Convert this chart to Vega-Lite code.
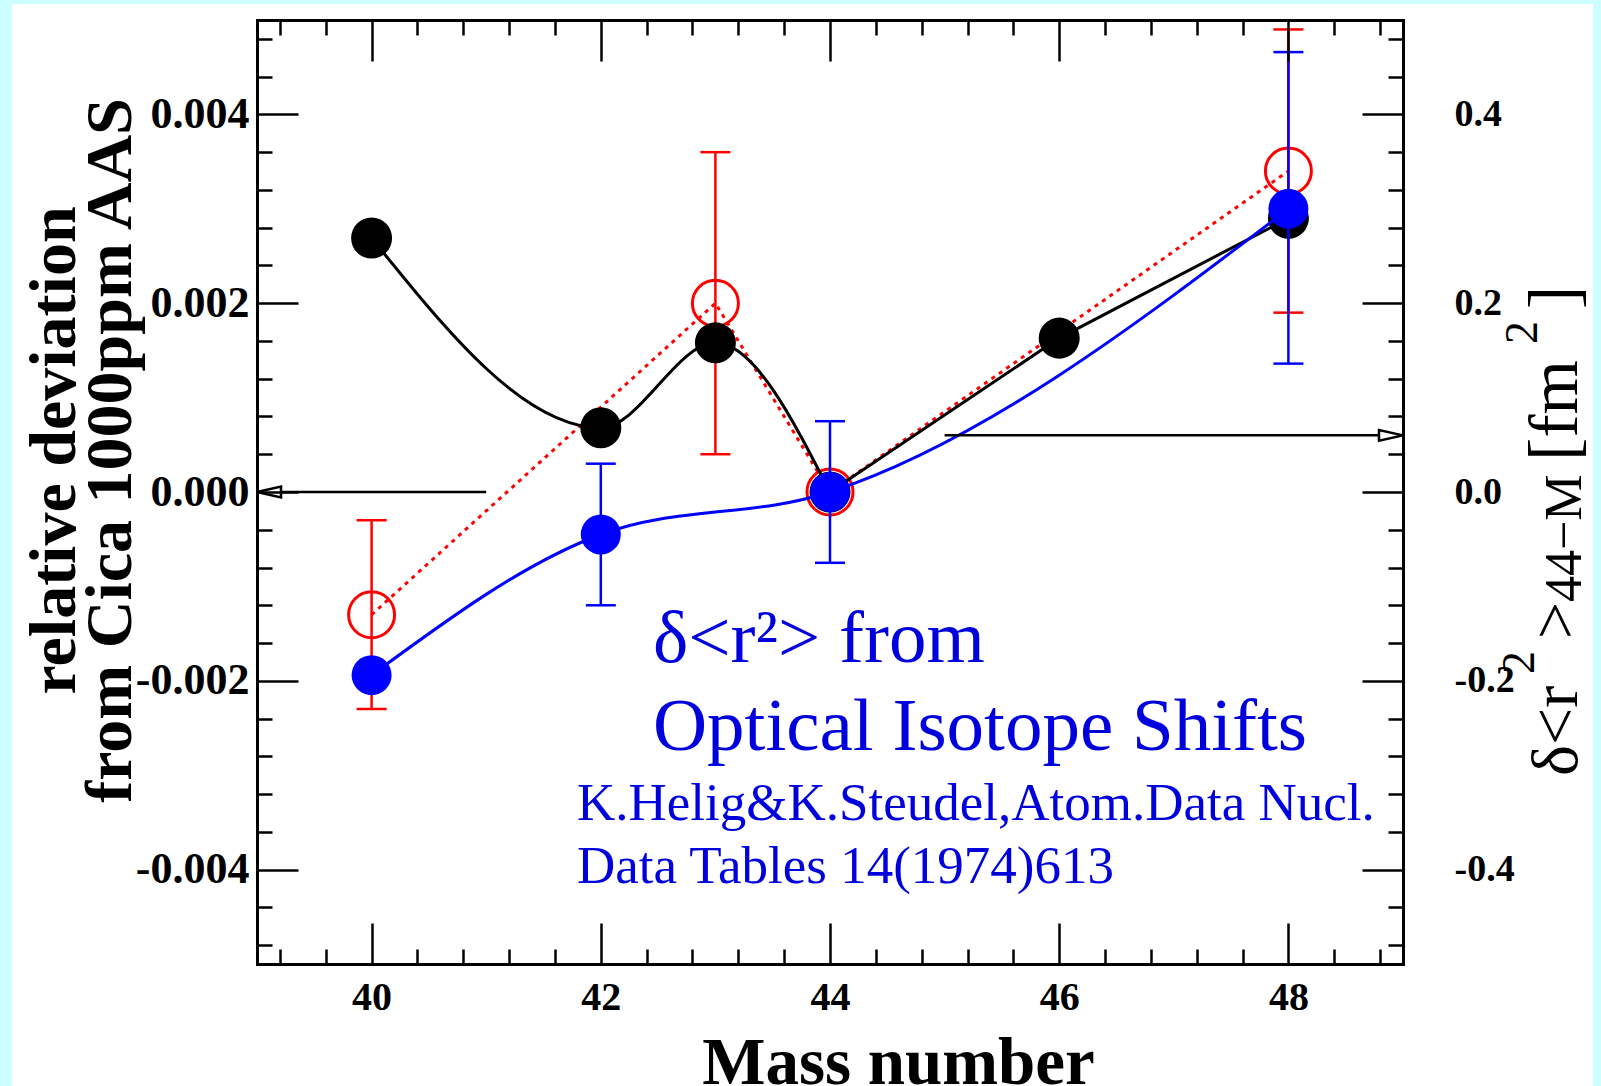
{
  "$schema": "https://vega.github.io/schema/vega-lite/v6.json",
  "width": 1146,
  "height": 944,
  "autosize": {"type": "none"},
  "padding": {"left": 257, "top": 20, "right": 198, "bottom": 122},
  "background": "#ccffff",
  "config": {
    "view": {"stroke": null},
    "font": "Liberation Serif",
    "axis": {
      "grid": false,
      "domain": false,
      "labels": false,
      "ticks": true,
      "tickColor": "black",
      "tickWidth": 2.5,
      "labelFont": "Liberation Serif",
      "labelFontWeight": "bold",
      "labelFontSize": 40,
      "labelColor": "black",
      "labelFlush": false,
      "labelOverlap": false,
      "titleFont": "Liberation Serif",
      "titleColor": "black",
      "titleFontWeight": "bold"
    }
  },
  "datasets": {
    "black": [
      {"A": 40, "v": 0.00269},
      {"A": 42, "v": 0.00068},
      {"A": 43, "v": 0.00158},
      {"A": 44, "v": 0},
      {"A": 46, "v": 0.00163},
      {"A": 48, "v": 0.0029}
    ],
    "red": [
      {"A": 40, "v": -0.0013, "lo": -0.0023, "hi": -0.0003},
      {"A": 43, "v": 0.002, "lo": 0.0004, "hi": 0.0036},
      {"A": 44, "v": 0},
      {"A": 48, "v": 0.0034, "lo": 0.0019, "hi": 0.0049}
    ],
    "blue": [
      {"A": 40, "v": -0.00194},
      {"A": 42, "v": -0.00045, "lo": -0.0012, "hi": 0.0003},
      {"A": 44, "v": 0, "lo": -0.00075, "hi": 0.00075},
      {"A": 48, "v": 0.003, "lo": 0.00136, "hi": 0.00466}
    ],
    "arrows": [
      {"from": 41, "to": 39, "y": 0, "dir": "left"},
      {"from": 45, "to": 49, "y": 0.0006, "dir": "right"}
    ]
  },
  "layer": [
    {
      "data": {"values": [{}]},
      "mark": {"type": "rect", "color": "white"},
      "encoding": {
        "x": {
          "datum": 36.862, "type": "quantitative",
          "scale": {"domain": [39, 49], "nice": false, "zero": false},
          "axis": {
            "zindex": 1,
            "orient": "bottom",
            "values": [40, 42, 44, 46, 48],
            "domain": true, "domainWidth": 3, "domainColor": "black", "domainCap": "square",
            "tickSize": -41,
            "labels": true, "labelPadding": 54, "format": "d", "labelFontSize": 40,
            "title": "Mass number", "titleFontSize": 67,
            "titleX": 641, "titleY": 119, "titleAlign": "center", "titleBaseline": "alphabetic", "titleAngle": 0
          }
        },
        "x2": {"datum": 50.658},
        "y": {
          "datum": 0.0051695, "type": "quantitative",
          "scale": {"domain": [-0.005, 0.005], "nice": false, "zero": false},
          "axis": {
            "zindex": 1,
            "orient": "left",
            "values": [-0.004, -0.002, 0, 0.002, 0.004],
            "domain": true, "domainWidth": 3, "domainColor": "black", "domainCap": "square",
            "tickSize": -41,
            "labels": true, "labelPadding": 49, "labelFontSize": 44,
            "labelExpr": "datum.value < -1e-9 ? '-' + format(-datum.value, '.3f') : format(abs(datum.value), '.3f')",
            "title": ["relative deviation", "from Cica 1000ppm AAS"],
            "titleFontSize": 66, "titleLineHeight": 56,
            "titleAngle": 270, "titleX": -183, "titleY": 430,
            "titleAlign": "center", "titleBaseline": "alphabetic"
          }
        },
        "y2": {"datum": -0.0065}
      }
    },
    {
      "data": {"name": "red"},
      "mark": {"type": "line", "color": "#ff0000", "strokeWidth": 3, "strokeDash": [4, 5]},
      "encoding": {
        "x": {
          "field": "A", "type": "quantitative",
          "axis": {
            "zindex": 1,
            "orient": "top", "values": [40, 42, 44, 46, 48],
            "domain": true, "domainWidth": 3, "domainColor": "black", "domainCap": "square",
            "tickSize": -41, "labels": false, "title": null
          }
        },
        "y": {
          "field": "v", "type": "quantitative",
          "axis": {
            "zindex": 1,
            "orient": "right", "values": [-0.004, -0.002, 0, 0.002, 0.004],
            "domain": true, "domainWidth": 3, "domainColor": "black", "domainCap": "square",
            "tickSize": -41, "labels": true, "labelPadding": 92, "labelAlign": "left", "labelFontSize": 38,
            "labelExpr": "datum.value < -1e-9 ? '-' + format(-datum.value * 100, '.1f') : format(abs(datum.value) * 100, '.1f')",
            "title": null
          }
        }
      }
    },
    {
      "data": {"name": "red"},
      "mark": {"type": "rule", "color": "#ff0000", "strokeWidth": 2.5},
      "encoding": {
        "x": {
          "field": "A", "type": "quantitative",
          "axis": {
            "zindex": 1,
            "orient": "bottom",
            "values": [39.2, 39.6, 40.4, 40.8, 41.2, 41.6, 42.4, 42.8, 43.2, 43.6, 44.4, 44.8, 45.2, 45.6, 46.4, 46.8, 47.2, 47.6, 48.4, 48.8],
            "tickSize": -15, "labels": false, "title": null
          }
        },
        "y": {
          "field": "lo", "type": "quantitative",
          "axis": {
            "zindex": 1,
            "orient": "left",
            "values": [-0.0048, -0.0044, -0.0036, -0.0032, -0.0028, -0.0024, -0.0016, -0.0012, -0.0008, -0.0004, 0.0004, 0.0008, 0.0012, 0.0016, 0.0024, 0.0028, 0.0032, 0.0036, 0.0044, 0.0048],
            "tickSize": -15, "labels": false, "title": null
          }
        },
        "y2": {"field": "hi"}
      }
    },
    {
      "data": {"name": "red"},
      "mark": {"type": "tick", "orient": "horizontal", "color": "#ff0000", "size": 30, "thickness": 2.5, "opacity": 1},
      "encoding": {
        "x": {
          "field": "A", "type": "quantitative",
          "axis": {
            "zindex": 1,
            "orient": "top",
            "values": [39.2, 39.6, 40.4, 40.8, 41.2, 41.6, 42.4, 42.8, 43.2, 43.6, 44.4, 44.8, 45.2, 45.6, 46.4, 46.8, 47.2, 47.6, 48.4, 48.8],
            "tickSize": -15, "labels": false, "title": null
          }
        },
        "y": {
          "field": "lo", "type": "quantitative",
          "axis": {
            "zindex": 1,
            "orient": "right",
            "values": [-0.0048, -0.0044, -0.0036, -0.0032, -0.0028, -0.0024, -0.0016, -0.0012, -0.0008, -0.0004, 0.0004, 0.0008, 0.0012, 0.0016, 0.0024, 0.0028, 0.0032, 0.0036, 0.0044, 0.0048],
            "tickSize": -15, "labels": false, "title": null
          }
        }
      }
    },
    {
      "data": {"name": "red"},
      "mark": {"type": "tick", "orient": "horizontal", "color": "#ff0000", "size": 30, "thickness": 2.5, "opacity": 1},
      "encoding": {
        "x": {"field": "A", "type": "quantitative", "axis": null},
        "y": {"field": "hi", "type": "quantitative", "axis": null}
      }
    },
    {
      "data": {"name": "red"},
      "mark": {"type": "point", "shape": "circle", "filled": false, "stroke": "#ff0000", "strokeWidth": 3, "size": 2116, "opacity": 1},
      "encoding": {
        "x": {"field": "A", "type": "quantitative", "axis": null},
        "y": {"field": "v", "type": "quantitative", "axis": null}
      }
    },
    {
      "data": {"name": "black"},
      "transform": [{"filter": "datum.A <= 44"}],
      "mark": {"type": "line", "color": "black", "strokeWidth": 3, "interpolate": "monotone"},
      "encoding": {
        "x": {"field": "A", "type": "quantitative", "axis": null},
        "y": {"field": "v", "type": "quantitative", "axis": null}
      }
    },
    {
      "data": {"name": "black"},
      "transform": [{"filter": "datum.A >= 44"}],
      "mark": {"type": "line", "color": "black", "strokeWidth": 3},
      "encoding": {
        "x": {"field": "A", "type": "quantitative", "axis": null},
        "y": {"field": "v", "type": "quantitative", "axis": null}
      }
    },
    {
      "data": {"name": "black"},
      "mark": {"type": "point", "shape": "circle", "filled": true, "color": "black", "size": 1681, "opacity": 1},
      "encoding": {
        "x": {"field": "A", "type": "quantitative", "axis": null},
        "y": {"field": "v", "type": "quantitative", "axis": null}
      }
    },
    {
      "data": {"name": "blue"},
      "mark": {"type": "line", "color": "#0000ff", "strokeWidth": 3, "interpolate": "monotone"},
      "encoding": {
        "x": {"field": "A", "type": "quantitative", "axis": null},
        "y": {"field": "v", "type": "quantitative", "axis": null}
      }
    },
    {
      "data": {"name": "blue"},
      "mark": {"type": "rule", "color": "#0000ff", "strokeWidth": 2.5},
      "encoding": {
        "x": {"field": "A", "type": "quantitative", "axis": null},
        "y": {"field": "lo", "type": "quantitative", "axis": null},
        "y2": {"field": "hi"}
      }
    },
    {
      "data": {"name": "blue"},
      "mark": {"type": "tick", "orient": "horizontal", "color": "#0000ff", "size": 30, "thickness": 2.5, "opacity": 1},
      "encoding": {
        "x": {"field": "A", "type": "quantitative", "axis": null},
        "y": {"field": "lo", "type": "quantitative", "axis": null}
      }
    },
    {
      "data": {"name": "blue"},
      "mark": {"type": "tick", "orient": "horizontal", "color": "#0000ff", "size": 30, "thickness": 2.5, "opacity": 1},
      "encoding": {
        "x": {"field": "A", "type": "quantitative", "axis": null},
        "y": {"field": "hi", "type": "quantitative", "axis": null}
      }
    },
    {
      "data": {"name": "blue"},
      "mark": {"type": "point", "shape": "circle", "filled": true, "color": "#0000ff", "size": 1600, "opacity": 1},
      "encoding": {
        "x": {"field": "A", "type": "quantitative", "axis": null},
        "y": {"field": "v", "type": "quantitative", "axis": null}
      }
    },
    {
      "data": {"name": "arrows"},
      "mark": {"type": "rule", "color": "black", "strokeWidth": 2.5},
      "encoding": {
        "x": {"field": "from", "type": "quantitative", "axis": null},
        "x2": {"field": "to"},
        "y": {"field": "y", "type": "quantitative", "axis": null}
      }
    },
    {
      "data": {"name": "arrows"},
      "mark": {"type": "point", "filled": true, "fill": "white", "stroke": "black", "strokeWidth": 2.5, "size": 576, "opacity": 1},
      "encoding": {
        "x": {"field": "to", "type": "quantitative", "axis": null},
        "y": {"field": "y", "type": "quantitative", "axis": null},
        "shape": {
          "field": "dir", "type": "nominal", "legend": null,
          "scale": {"domain": ["left", "right"], "range": ["M0,0L2,-0.45L2,0.45Z", "M0,0L-2,-0.45L-2,0.45Z"]}
        }
      }
    },
    {
      "data": {"values": [{}]},
      "mark": {"type": "text", "text": "δ<r²> from\nOptical Isotope Shifts", "lineBreak": "\n", "lineHeight": 88, "align": "left", "baseline": "alphabetic", "font": "Liberation Serif", "fontSize": 75, "color": "#0000dd"},
      "encoding": {
        "x": {"datum": 42.455, "type": "quantitative", "axis": null},
        "y": {"datum": -0.001801, "type": "quantitative", "axis": null}
      }
    },
    {
      "data": {"values": [{}]},
      "mark": {"type": "text", "text": "K.Helig&K.Steudel,Atom.Data Nucl.\nData Tables 14(1974)613", "lineBreak": "\n", "lineHeight": 63, "align": "left", "baseline": "alphabetic", "font": "Liberation Serif", "fontSize": 53, "color": "#0000dd"},
      "encoding": {
        "x": {"datum": 41.792, "type": "quantitative", "axis": null},
        "y": {"datum": -0.003475, "type": "quantitative", "axis": null}
      }
    },
    {
      "data": {"values": [{}]},
      "mark": {"type": "text", "text": "δ<r", "angle": 270, "align": "left", "baseline": "alphabetic", "font": "Liberation Serif", "fontSize": 66, "color": "black"},
      "encoding": {
        "x": {"datum": 50.518, "type": "quantitative", "axis": null},
        "y": {"datum": -0.0030085, "type": "quantitative", "axis": null}
      }
    },
    {
      "data": {"values": [{}]},
      "mark": {"type": "text", "text": "2", "angle": 270, "align": "left", "baseline": "alphabetic", "font": "Liberation Serif", "fontSize": 46, "color": "black"},
      "encoding": {
        "x": {"datum": 50.143, "type": "quantitative", "axis": null},
        "y": {"datum": -0.001928, "type": "quantitative", "axis": null}
      }
    },
    {
      "data": {"values": [{}]},
      "mark": {"type": "text", "text": ">", "angle": 270, "align": "left", "baseline": "alphabetic", "font": "Liberation Serif", "fontSize": 66, "color": "black"},
      "encoding": {
        "x": {"datum": 50.518, "type": "quantitative", "axis": null},
        "y": {"datum": -0.001557, "type": "quantitative", "axis": null}
      }
    },
    {
      "data": {"values": [{}]},
      "mark": {"type": "text", "text": "44−M", "angle": 270, "align": "left", "baseline": "alphabetic", "font": "Liberation Serif", "fontSize": 52, "color": "black"},
      "encoding": {
        "x": {"datum": 50.553, "type": "quantitative", "axis": null},
        "y": {"datum": -0.001165, "type": "quantitative", "axis": null}
      }
    },
    {
      "data": {"values": [{}]},
      "mark": {"type": "text", "text": "[fm", "angle": 270, "align": "left", "baseline": "alphabetic", "font": "Liberation Serif", "fontSize": 70, "color": "black"},
      "encoding": {
        "x": {"datum": 50.518, "type": "quantitative", "axis": null},
        "y": {"datum": 0.000328, "type": "quantitative", "axis": null}
      }
    },
    {
      "data": {"values": [{}]},
      "mark": {"type": "text", "text": "2", "angle": 270, "align": "left", "baseline": "alphabetic", "font": "Liberation Serif", "fontSize": 46, "color": "black"},
      "encoding": {
        "x": {"datum": 50.169, "type": "quantitative", "axis": null},
        "y": {"datum": 0.001568, "type": "quantitative", "axis": null}
      }
    },
    {
      "data": {"values": [{}]},
      "mark": {"type": "text", "text": "]", "angle": 270, "align": "left", "baseline": "alphabetic", "font": "Liberation Serif", "fontSize": 70, "color": "black"},
      "encoding": {
        "x": {"datum": 50.518, "type": "quantitative", "axis": null},
        "y": {"datum": 0.001939, "type": "quantitative", "axis": null}
      }
    }
  ],
  "resolve": {"axis": {"x": "independent", "y": "independent"}}
}
